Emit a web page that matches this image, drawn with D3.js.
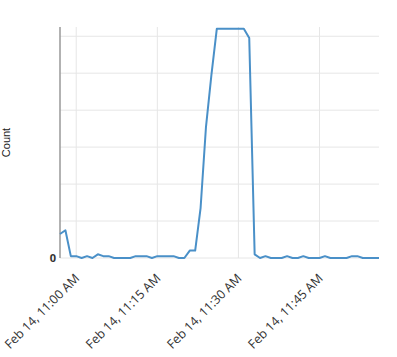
<!DOCTYPE html>
<html>
<head>
<meta charset="utf-8">
<script src="https://cdn.jsdelivr.net/npm/d3@7"></script>
<style>
  body { margin: 0; background: #fff; }
  svg { display: block; font-family: "Open Sans", sans-serif; }
</style>
</head>
<body>
<svg id="chart" width="397" height="357"></svg>
<script>
// one sample per minute, starting Feb 14 10:57
const startTime = new Date(2024, 1, 14, 10, 57)
const counts = [13, 15, 1, 1, 0, 1, 0, 2, 1, 1,
                0, 0, 0, 0, 1, 1, 1, 0, 1, 1,
                1, 1, 0, 0, 4, 4, 27, 71, 99, 124,
                124, 124, 124, 124, 124, 119, 2, 0, 1, 0,
                0, 0, 1, 0, 0, 1, 0, 0, 0, 1,
                0, 0, 0, 0, 1, 1, 0, 0, 0, 0]
const yTicks = [0, 20, 40, 60, 80, 100, 120]
const yMax = 125
const yLabel = 'Count'

const data = counts.map((c, i) => ({ t: d3.timeMinute.offset(startTime, i), v: c }))

const svg = d3.select('#chart')
const margin = { top: 27, right: 18, bottom: 99, left: 60 }
const width = +svg.attr('width') - margin.left - margin.right
const height = +svg.attr('height') - margin.top - margin.bottom

const g = svg.append('g').attr('transform', `translate(${margin.left},${margin.top})`)

const x = d3.scaleTime()
    .domain(d3.extent(data, d => d.t))
    .range([0, width])

const y = d3.scaleLinear()
    .domain([0, yMax])
    .range([height, 0])

const xTicks = x.ticks(d3.timeMinute.every(15))

// grid
g.append('g').selectAll('line')
    .data(yTicks)
    .join('line')
    .attr('x1', 0).attr('x2', width)
    .attr('y1', d => y(d)).attr('y2', d => y(d))
    .attr('stroke', '#e6e6e6').attr('stroke-width', 1)

g.append('g').selectAll('line')
    .data(xTicks)
    .join('line')
    .attr('x1', d => x(d)).attr('x2', d => x(d))
    .attr('y1', 0).attr('y2', height)
    .attr('stroke', '#e6e6e6').attr('stroke-width', 1)

// y axis line + only the zero label
g.append('line')
    .attr('x1', 0).attr('x2', 0)
    .attr('y1', 0).attr('y2', height)
    .attr('stroke', '#999').attr('stroke-width', 1.5)

g.append('text')
    .attr('x', -4).attr('y', y(0))
    .attr('dy', '0.35em')
    .attr('text-anchor', 'end')
    .attr('font-size', 11).attr('font-weight', 'bold')
    .attr('fill', '#333')
    .text('0')

// x tick labels
const fmt = d3.timeFormat('%b %-d, %-I:%M %p')
g.append('g').selectAll('text')
    .data(xTicks)
    .join('text')
    .attr('transform', d => `translate(${x(d) + 1},${height + 18}) rotate(-45)`)
    .attr('text-anchor', 'end')
    .attr('dy', '0.35em')
    .attr('font-size', 12.5)
    .attr('fill', '#333')
    .text(d => fmt(d))

// y label
svg.append('text')
    .attr('transform', `translate(9.5,${margin.top + height / 2}) rotate(-90)`)
    .attr('text-anchor', 'middle')
    .attr('font-family', '"Liberation Sans", Arial, sans-serif')
    .attr('font-size', 11)
    .attr('fill', '#222')
    .text(yLabel)

// line
const line = d3.line()
    .x(d => x(d.t))
    .y(d => y(d.v))

g.append('path')
    .datum(data)
    .attr('fill', 'none')
    .attr('stroke', '#4a90c8')
    .attr('stroke-width', 2)
    .attr('stroke-linejoin', 'round')
    .attr('d', line)
</script>
</body>
</html>
